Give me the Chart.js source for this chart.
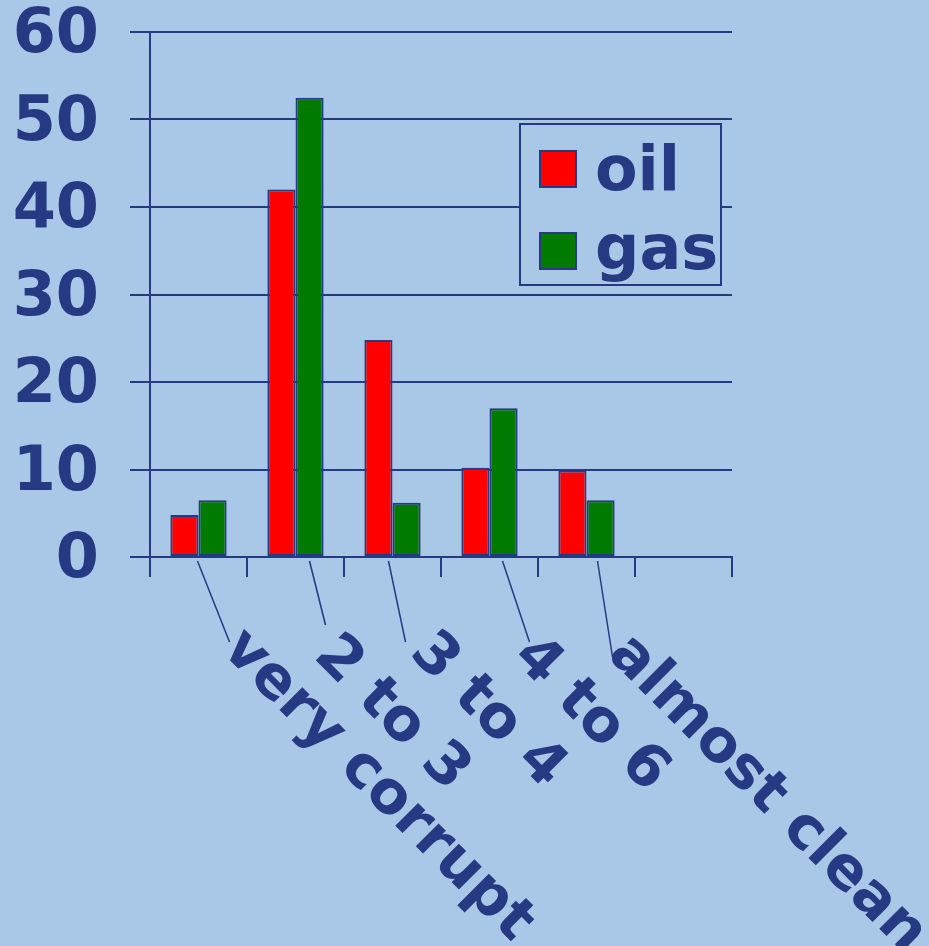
<!DOCTYPE html>
<html>
<head>
<meta charset="utf-8">
<script src="https://cdn.jsdelivr.net/npm/chart.js@4.4.1/dist/chart.umd.min.js"></script>
<style>
  html, body { margin: 0; padding: 0; background: #a9c7e6; }
  canvas { display: block; }
</style>
</head>
<body>
<canvas id="corruptionChart" width="929" height="946"></canvas>
<script>
// data
const categories = ['very corrupt', '2 to 3', '3 to 4', '4 to 6', 'almost clean', ''];
const oilValues = [4.8, 42, 24.8, 10.2, 9.9, null];
const gasValues = [6.5, 52.5, 6.2, 17, 6.5, null];
const yTickValues = [0, 10, 20, 30, 40, 50, 60];

const navy = '#263a84';
const bg = '#a9c7e6';
const fontFamily = '"DejaVu Sans", Verdana, sans-serif';

// where each rotated label sits, relative to its category centre / axis bottom
// [lineStartDx, lineEndDx, lineEndDy, textDx, textDy]
const labelPlacement = [
    [-1, 31, 85, 22, 94],
    [14, 30, 68, 17, 100],
    [-4, 13, 85, 16, 97],
    [13, 40, 85, 22, 101],
    [11, 26, 100, 20, 99]
];

const backgroundPlugin = {
    id: 'bgFill',
    beforeDraw(chart) {
        const ctx = chart.ctx;
        ctx.save();
        ctx.fillStyle = bg;
        ctx.fillRect(0, 0, chart.width, chart.height);
        ctx.restore();
    }
};

const slantedLabels = {
    id: 'slantedLabels',
    afterDraw(chart) {
        const ctx = chart.ctx;
        const x = chart.scales.x;
        const bottom = chart.chartArea.bottom;
        ctx.save();
        labelPlacement.forEach((p, i) => {
            const cx = x.getPixelForValue(i);
            ctx.strokeStyle = navy;
            ctx.lineWidth = 1.5;
            ctx.beginPath();
            ctx.moveTo(cx + p[0], bottom + 4);
            ctx.lineTo(cx + p[1], bottom + p[2]);
            ctx.stroke();

            ctx.save();
            ctx.translate(cx + p[3], bottom + p[4]);
            ctx.rotate(Math.PI / 4);
            ctx.fillStyle = navy;
            ctx.font = 'bold 59px ' + fontFamily;
            ctx.textAlign = 'left';
            ctx.textBaseline = 'alphabetic';
            ctx.fillText(categories[i], 0, 0);
            ctx.restore();
        });
        ctx.restore();
    }
};

const boxLegend = {
    id: 'boxLegend',
    afterDatasetsDraw(chart) {
        const ctx = chart.ctx;
        ctx.save();
        ctx.fillStyle = bg;
        ctx.fillRect(519, 123, 203, 163);
        ctx.strokeStyle = navy;
        ctx.lineWidth = 2;
        ctx.strokeRect(520, 124, 201, 161);

        chart.data.datasets.forEach((ds, i) => {
            const top = 150 + i * 82;
            ctx.fillStyle = ds.backgroundColor;
            ctx.fillRect(539, top, 38, 38);
            ctx.strokeStyle = navy;
            ctx.lineWidth = 2;
            ctx.strokeRect(540, top + 1, 36, 36);
            ctx.fillStyle = navy;
            ctx.font = 'bold 62px ' + fontFamily;
            ctx.textBaseline = 'alphabetic';
            ctx.fillText(ds.label, 595, top + 40 - i * 3);
        });
        ctx.restore();
    }
};

const ctx = document.getElementById('corruptionChart').getContext('2d');
const corruptionChart = new Chart(ctx, {
    type: 'bar',
    data: {
        labels: categories,
        datasets: [{
            label: 'oil',
            data: oilValues,
            backgroundColor: '#ff0000',
            borderColor: navy,
            borderWidth: 2,
            borderSkipped: false,
            categoryPercentage: 0.58,
            barPercentage: 1
        }, {
            label: 'gas',
            data: gasValues,
            backgroundColor: '#007a00',
            borderColor: navy,
            borderWidth: 2,
            borderSkipped: false,
            categoryPercentage: 0.58,
            barPercentage: 1
        }]
    },
    options: {
        responsive: false,
        animation: false,
        layout: { padding: { top: 32, right: 197, left: 0, bottom: 0 } },
        plugins: {
            legend: { display: false },
            tooltip: { enabled: false }
        },
        scales: {
            x: {
                offset: true,
                grid: {
                    offset: true,
                    drawOnChartArea: true,
                    color: (c) => c.index === categories.length ? navy : 'rgba(0,0,0,0)',
                    tickColor: navy,
                    tickLength: 20,
                    lineWidth: 2
                },
                border: { display: true, color: navy, width: 2 },
                ticks: { display: false },
                afterFit: (scale) => { scale.height = 946 - 557; }
            },
            y: {
                min: 0,
                max: 60,
                afterBuildTicks: (scale) => {
                    scale.ticks = yTickValues.map(v => ({ value: v }));
                },
                grid: {
                    color: navy,
                    lineWidth: 2,
                    tickLength: 20
                },
                border: { display: true, color: navy, width: 2 },
                ticks: {
                    color: navy,
                    padding: 31,
                    labelOffset: 4,
                    font: { family: fontFamily, size: 62, weight: 'bold', lineHeight: 1 }
                },
                afterFit: (scale) => {
                    scale.width = 150;
                    scale.paddingTop = 0;
                    scale.paddingBottom = 0;
                }
            }
        }
    },
    plugins: [backgroundPlugin, slantedLabels, boxLegend]
});
</script>
</body>
</html>
